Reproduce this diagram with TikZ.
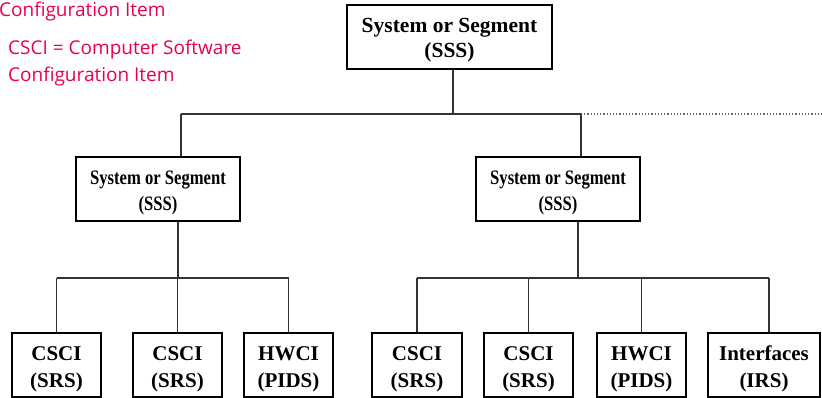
\documentclass[tikz,border=0pt]{standalone}
\usepackage{fontspec}
\setmainfont{Liberation Serif}
\newfontfamily\condserif[FakeStretch=0.81]{Liberation Serif}
\newfontfamily\notefont{Open Sans}
\definecolor{notered}{RGB}{232,0,78}
\newcommand{\twolines}[2]{\raisebox{-3.5pt}[\height][\depth]{\begin{tabular}{@{}c@{}}#1\\#2\end{tabular}}}
\begin{document}
\begin{tikzpicture}[x=1pt,y=-1pt,
  box/.style={draw=black,line width=2.6pt,fill=white,inner sep=0pt,
    font=\fontsize{21}{27}\selectfont\bfseries,minimum height=64pt},
  topbox/.style={box,font=\fontsize{21.5}{25}\selectfont\bfseries},
  midbox/.style={box,font=\condserif\fontsize{20.5}{26}\selectfont\bfseries},
  conn/.style={draw=black!80,line width=1.4pt},
  note/.style={text=notered,anchor=base west,inner sep=0pt,font=\notefont\fontsize{19}{20}\selectfont}]
\useasboundingbox (0,0) rectangle (822,398);
% notes
\node[note] (n1) at (-1,17) {Configuration Item};
\node[note] (n2) at (8,55) {CSCI = Computer Software};
\node[note] (n3) at (8,82) {Configuration Item};
% boxes
\node[topbox,minimum width=205pt] (top) at (449.5,37) {\twolines{System or Segment}{(SSS)}};
\node[midbox,minimum width=164pt] (L) at (158,189) {\twolines{System or Segment}{(SSS)}};
\node[midbox,minimum width=164pt] (R) at (558,189) {\twolines{System or Segment}{(SSS)}};
\node[box,minimum width=89pt] (b1) at (56.5,365) {\twolines{CSCI}{(SRS)}};
\node[box,minimum width=89pt] (b2) at (177.5,365) {\twolines{CSCI}{(SRS)}};
\node[box,minimum width=89pt] (b3) at (288.5,365) {\twolines{HWCI}{(PIDS)}};
\node[box,minimum width=90pt] (b4) at (417,365) {\twolines{CSCI}{(SRS)}};
\node[box,minimum width=89pt] (b5) at (528.5,365) {\twolines{CSCI}{(SRS)}};
\node[box,minimum width=89pt] (b6) at (641.5,365) {\twolines{HWCI}{(PIDS)}};
\node[box,minimum width=112pt] (b7) at (764,365) {\twolines{Interfaces}{(IRS)}};
% junctions
\coordinate (j0) at (453,114);
\coordinate (jl) at (181,114);
\coordinate (jr) at (581,114);
\coordinate (jend) at (822,114);
\coordinate (k1) at (178,278);
\coordinate (k2) at (578,278);
\coordinate (k7) at (769,278);
% connectors
\draw[conn,line width=1.8pt] (top.south -| j0) -- (j0);
\draw[conn] (jl) -- (jr);
\draw[black!60,line width=1.2pt,dotted] (jr) -- (jend);
\draw[conn] (jl) -- (jl |- L.north);
\draw[conn] (jr) -- (jr |- R.north);
\draw[conn] (L.south -| k1) -- (k1);
\draw[conn] (R.south -| k2) -- (k2);
\draw[conn] (b1.north |- k1) -- (b3.north |- k1);
\draw[conn] (b4.north |- k2) -- (k7);
\draw[conn] (b1.north |- k1) -- (b1.north);
\draw[conn] (b2.north |- k1) -- (b2.north);
\draw[conn] (b3.north |- k1) -- (b3.north);
\draw[conn] (b4.north |- k2) -- (b4.north);
\draw[conn] (b5.north |- k2) -- (b5.north);
\draw[conn] (b6.north |- k2) -- (b6.north);
\draw[conn] (k7) -- (k7 |- b7.north);
\end{tikzpicture}
\end{document}
